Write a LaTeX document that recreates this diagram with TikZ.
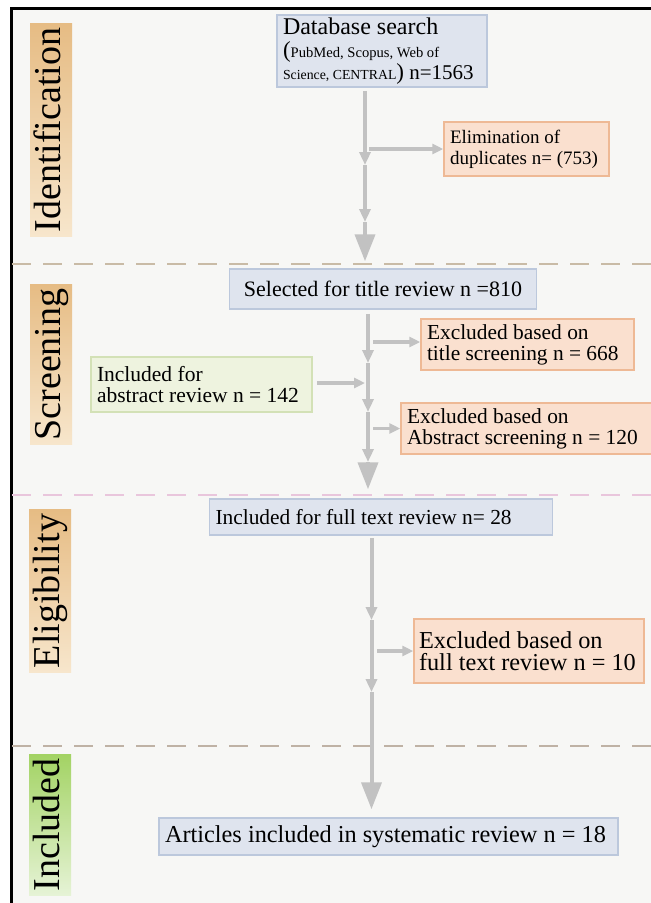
\documentclass[tikz,border=0pt]{standalone}
\usepackage{fontspec}
\setmainfont{Liberation Serif}
\usetikzlibrary{arrows.meta,positioning,calc}
\setlength{\lineskiplimit}{-30pt}

\definecolor{bgFill}{HTML}{F7F7F5}
\definecolor{blueFill}{HTML}{DFE4EE}
\definecolor{blueLine}{HTML}{BCC8DC}
\definecolor{peachFill}{HTML}{FAE0CF}
\definecolor{peachLine}{HTML}{EEB995}
\definecolor{greenFill}{HTML}{EEF3DF}
\definecolor{greenLine}{HTML}{D3E1B6}
\definecolor{arrowGray}{HTML}{C2C2C2}
\definecolor{tanDark}{HTML}{E6BC84}
\definecolor{tanLight}{HTML}{F7E6CC}
\definecolor{limeDark}{HTML}{A3D364}
\definecolor{limeLight}{HTML}{E6F3D6}
\definecolor{sepTan}{HTML}{C9BBA6}
\definecolor{sepPink}{HTML}{E9C6DC}
\definecolor{sepGray}{HTML}{BFB2A5}

\newcommand{\fsz}[2]{\fontsize{#1}{#2}\selectfont}

\begin{document}
\begin{tikzpicture}[
        x=1pt, y=-1pt,
        block/.style={rectangle, draw, line width=1.5pt, inner xsep=6pt, inner ysep=2pt, align=flush left,
            font=\fsz{21.5}{20.6}},
        bluebox/.style={block, fill=blueFill, draw=blueLine},
        peachbox/.style={block, fill=peachFill, draw=peachLine},
        greenbox/.style={block, fill=greenFill, draw=greenLine},
        stage/.style={rotate=90, inner xsep=4pt, inner ysep=1pt, text height=29pt, text depth=11pt,
            font=\fsz{38}{38}},
        tanstage/.style={stage, top color=tanDark, bottom color=tanLight},
        limestage/.style={stage, top color=limeDark, bottom color=limeLight},
        flow/.style={draw=arrowGray, line width=4pt},
        tip/.style={-{Triangle[width=11pt,length=13pt]}},
        bigtip/.style={-{Triangle[width=20pt,length=27pt]}},
        side/.style={draw=arrowGray, line width=3.5pt, -{Triangle[width=10pt,length=11pt]}},
        sep/.style={dash pattern=on 19pt off 12pt, line width=2pt}
    ]
        \useasboundingbox (0,0) rectangle (651,903);
        \clip (0,0) rectangle (651,903);
        % frame and phase separators
        \fill[bgFill] (11,8) rectangle (651,903);
        \draw[line width=3pt] (11,903) -- (11,8) -- (651,8);
        \draw[sep, sepTan] (12,264) -- (651,264);
        \draw[sep, sepPink] (12,495) -- (651,495);
        \draw[sep, sepGray] (12,746) -- (651,746);

        % phase labels
        \node[tanstage] (ident) at (51,130) {Identification};
        \node[tanstage] (screen) at (51,364.5) {Screening};
        \node[tanstage] (elig) at (50,591) {Eligibility};
        \node[limestage] (incl) at (50,825) {Included};

        % boxes
        \node[bluebox, text width=198pt, minimum height=72pt, font=\fsz{21}{20.8}] (db) at (382,51)
            {{\fsz{24}{20.8}Database search}\\[2pt]{\fsz{23}{20.8}(}{\fsz{14.6}{20.8}PubMed, Scopus, Web of}\\{\fsz{13.8}{20.8}Science, CENTRAL}{\fsz{23}{20.8})} n=1563};
        \node[peachbox, text width=153pt, minimum height=54pt, font=\fsz{19}{21}] (elim) at (526.5,149)
            {Elimination of\\duplicates n= (753)};
        \node[bluebox, minimum width=307pt, minimum height=40pt, align=center, font=\fsz{22}{21}] (sel) at (383,289)
            {Selected for title review n =810};
        \node[peachbox, text width=201pt, minimum height=51pt, font=\fsz{21.4}{20.8}] (extitle) at (527.5,344.5)
            {Excluded based on\\title screening n = 668};
        \node[greenbox, text width=209pt, minimum height=55pt, font=\fsz{21.5}{20.8}] (inabs) at (201.5,384.5)
            {Included for\\abstract review n = 142};
        \node[peachbox, text width=244pt, minimum height=51pt, font=\fsz{21.4}{20.8}] (exabs) at (529,428.5)
            {Excluded based on\\Abstract screening n = 120};
        \node[bluebox, text width=331pt, minimum height=36pt, font=\fsz{21.4}{20.6}] (full) at (381,517)
            {Included for full text review n= 28};
        \node[peachbox, text width=220pt, inner xsep=5pt, minimum height=64pt, font=\fsz{24.3}{22}] (exfull) at (529,651)
            {Excluded based on\\full text review n = 10};
        \node[bluebox, text width=447pt, minimum height=37pt, font=\fsz{24.3}{22}] (art) at (388.5,836.5)
            {Articles included in systematic review n = 18};

        % junctions on the main flow
        \coordinate (i1) at (365,165);
        \coordinate (i2) at (365,222);
        \coordinate (ie) at (369,149);
        \coordinate (s1) at (368,363);
        \coordinate (s2) at (368,412);
        \coordinate (s3) at (368,462);
        \coordinate (st) at (373,342);
        \coordinate (ia) at (365,383);
        \coordinate (sb) at (373,428.5);
        \coordinate (e1) at (371.5,620);
        \coordinate (e2) at (371.5,692);
        \coordinate (ef) at (377,651);

        % identification
        \draw[flow, tip, shorten <=3pt] (db.south -| i1) -- (i1);
        \draw[flow, tip] (i1) -- (i2);
        \draw[flow, bigtip, shorten >=7pt] (i2) -- (i2 |- sel.north);
        \draw[side] (ie) -- (elim);
        % screening
        \draw[flow, tip, shorten <=4pt] (sel.south -| s1) -- (s1);
        \draw[flow, tip] (s1) -- (s2);
        \draw[flow, tip] (s2) -- (s3);
        \draw[flow, bigtip, shorten >=9pt] (s3) -- (s3 |- full.north);
        \draw[side] (st) -- (st -| extitle.west);
        \draw[side, shorten <=4pt] (inabs.east |- ia) -- (ia);
        \draw[side] (sb) -- (exabs);
        % eligibility and inclusion
        \draw[flow, tip, shorten <=2pt] (full.south -| e1) -- (e1);
        \draw[flow, tip] (e1) -- (e2);
        \draw[flow, bigtip, shorten >=8pt] (e2) -- (e2 |- art.north);
        \draw[side] (ef) -- (exfull);
    \end{tikzpicture}
\end{document}
